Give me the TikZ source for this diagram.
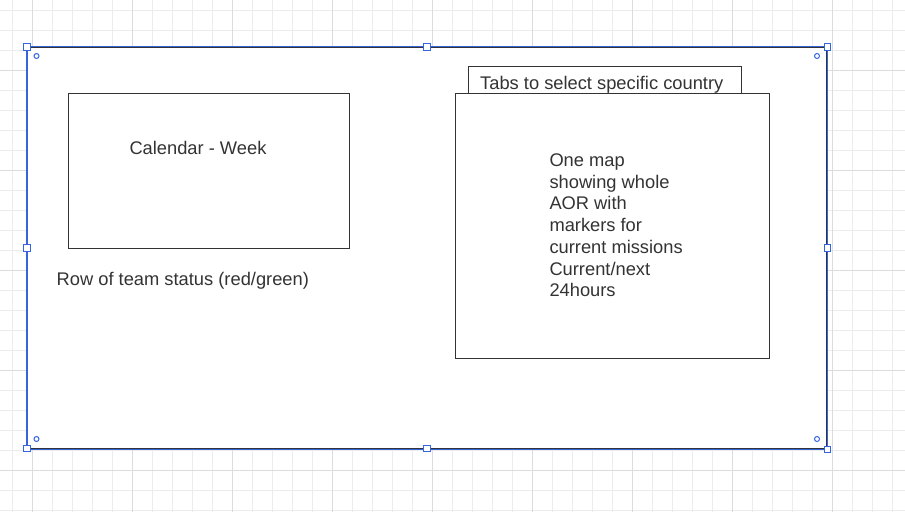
\documentclass[tikz,border=0pt]{standalone}
\usepackage{fontspec}
\setmainfont{Liberation Sans}
\definecolor{gridminor}{RGB}{236,236,236}
\definecolor{gridmajor}{RGB}{220,220,220}
\definecolor{selblue}{RGB}{52,100,222}
\definecolor{ink}{RGB}{51,51,51}
\tikzset{
  box/.style={draw=ink, line width=1pt, fill=white, inner sep=0pt, rectangle},
  lbl/.style={text=ink, inner sep=0pt, font=\fontsize{18.3}{21.7}\selectfont},
  handle/.style={draw=selblue, line width=1.2pt, fill=white, inner sep=0pt, minimum size=6.5pt, rectangle},
  rot/.style={draw=selblue, line width=1pt, fill=white, circle, inner sep=0pt, minimum size=5pt}
}
\begin{document}
\begin{tikzpicture}[x=1pt,y=-1pt]
\useasboundingbox (0,0) rectangle (905,512);
\fill[white] (0,0) rectangle (905,512);
% grid
\foreach \x in {12.5,32.5,...,900} \draw[gridminor, line width=1pt] (\x,0) -- (\x,512);
\foreach \y in {10,30,...,512} \draw[gridminor, line width=1pt] (0,\y) -- (905,\y);
\foreach \x in {32.5,132.5,...,900} \draw[gridmajor, line width=1pt] (\x,0) -- (\x,512);
\foreach \y in {70,170,...,512} \draw[gridmajor, line width=1pt] (0,\y) -- (905,\y);
% main frame
\node[box, minimum width=799pt, minimum height=401pt] (frame) at (427,248) {};
\draw[selblue, line width=1.3pt] (frame.north west) ++(0,-0.8) rectangle ([shift={(0.8,0.8)}]frame.south east);
% calendar
\node[box, minimum width=281pt, minimum height=155pt] (cal) at (208.8,170.5) {};
\node[lbl, anchor=base west] (caltext) at (129.3,154) {Calendar - Week};
\node[lbl, anchor=base west] (status) at (56.5,285) {Row of team status (red/green)};
% tabs and map
\node[box, minimum width=273pt, minimum height=27pt] (tabs) at (605,80) {};
\node[lbl, anchor=base west] (tabstext) at (480,89.3) {Tabs to select specific country};
\node[box, minimum width=314pt, minimum height=265pt] (map) at (612.3,225.8) {};
\node[lbl, anchor=base west, align=left] (maptext) at (549.3,296.7) {One map\\showing whole\\AOR with\\markers for\\current missions\\Current/next\\24hours};
% selection handles
\node[handle] (h1) at (frame.north west) {};
\node[handle] (h2) at (frame.north) {};
\node[handle] (h3) at ([xshift=0.5pt]frame.north east) {};
\node[handle] (h4) at (frame.west) {};
\node[handle] (h5) at ([xshift=0.5pt]frame.east) {};
\node[handle] (h6) at ([yshift=0.5pt]frame.south west) {};
\node[handle] (h7) at ([yshift=0.5pt]frame.south) {};
\node[handle] (h8) at ([shift={(0.5,0.5)}]frame.south east) {};
\node[rot] (r1) at (36.5,56) {};
\node[rot] (r2) at (817,56) {};
\node[rot] (r3) at (36.5,439) {};
\node[rot] (r4) at (817,439) {};
\end{tikzpicture}
\end{document}
